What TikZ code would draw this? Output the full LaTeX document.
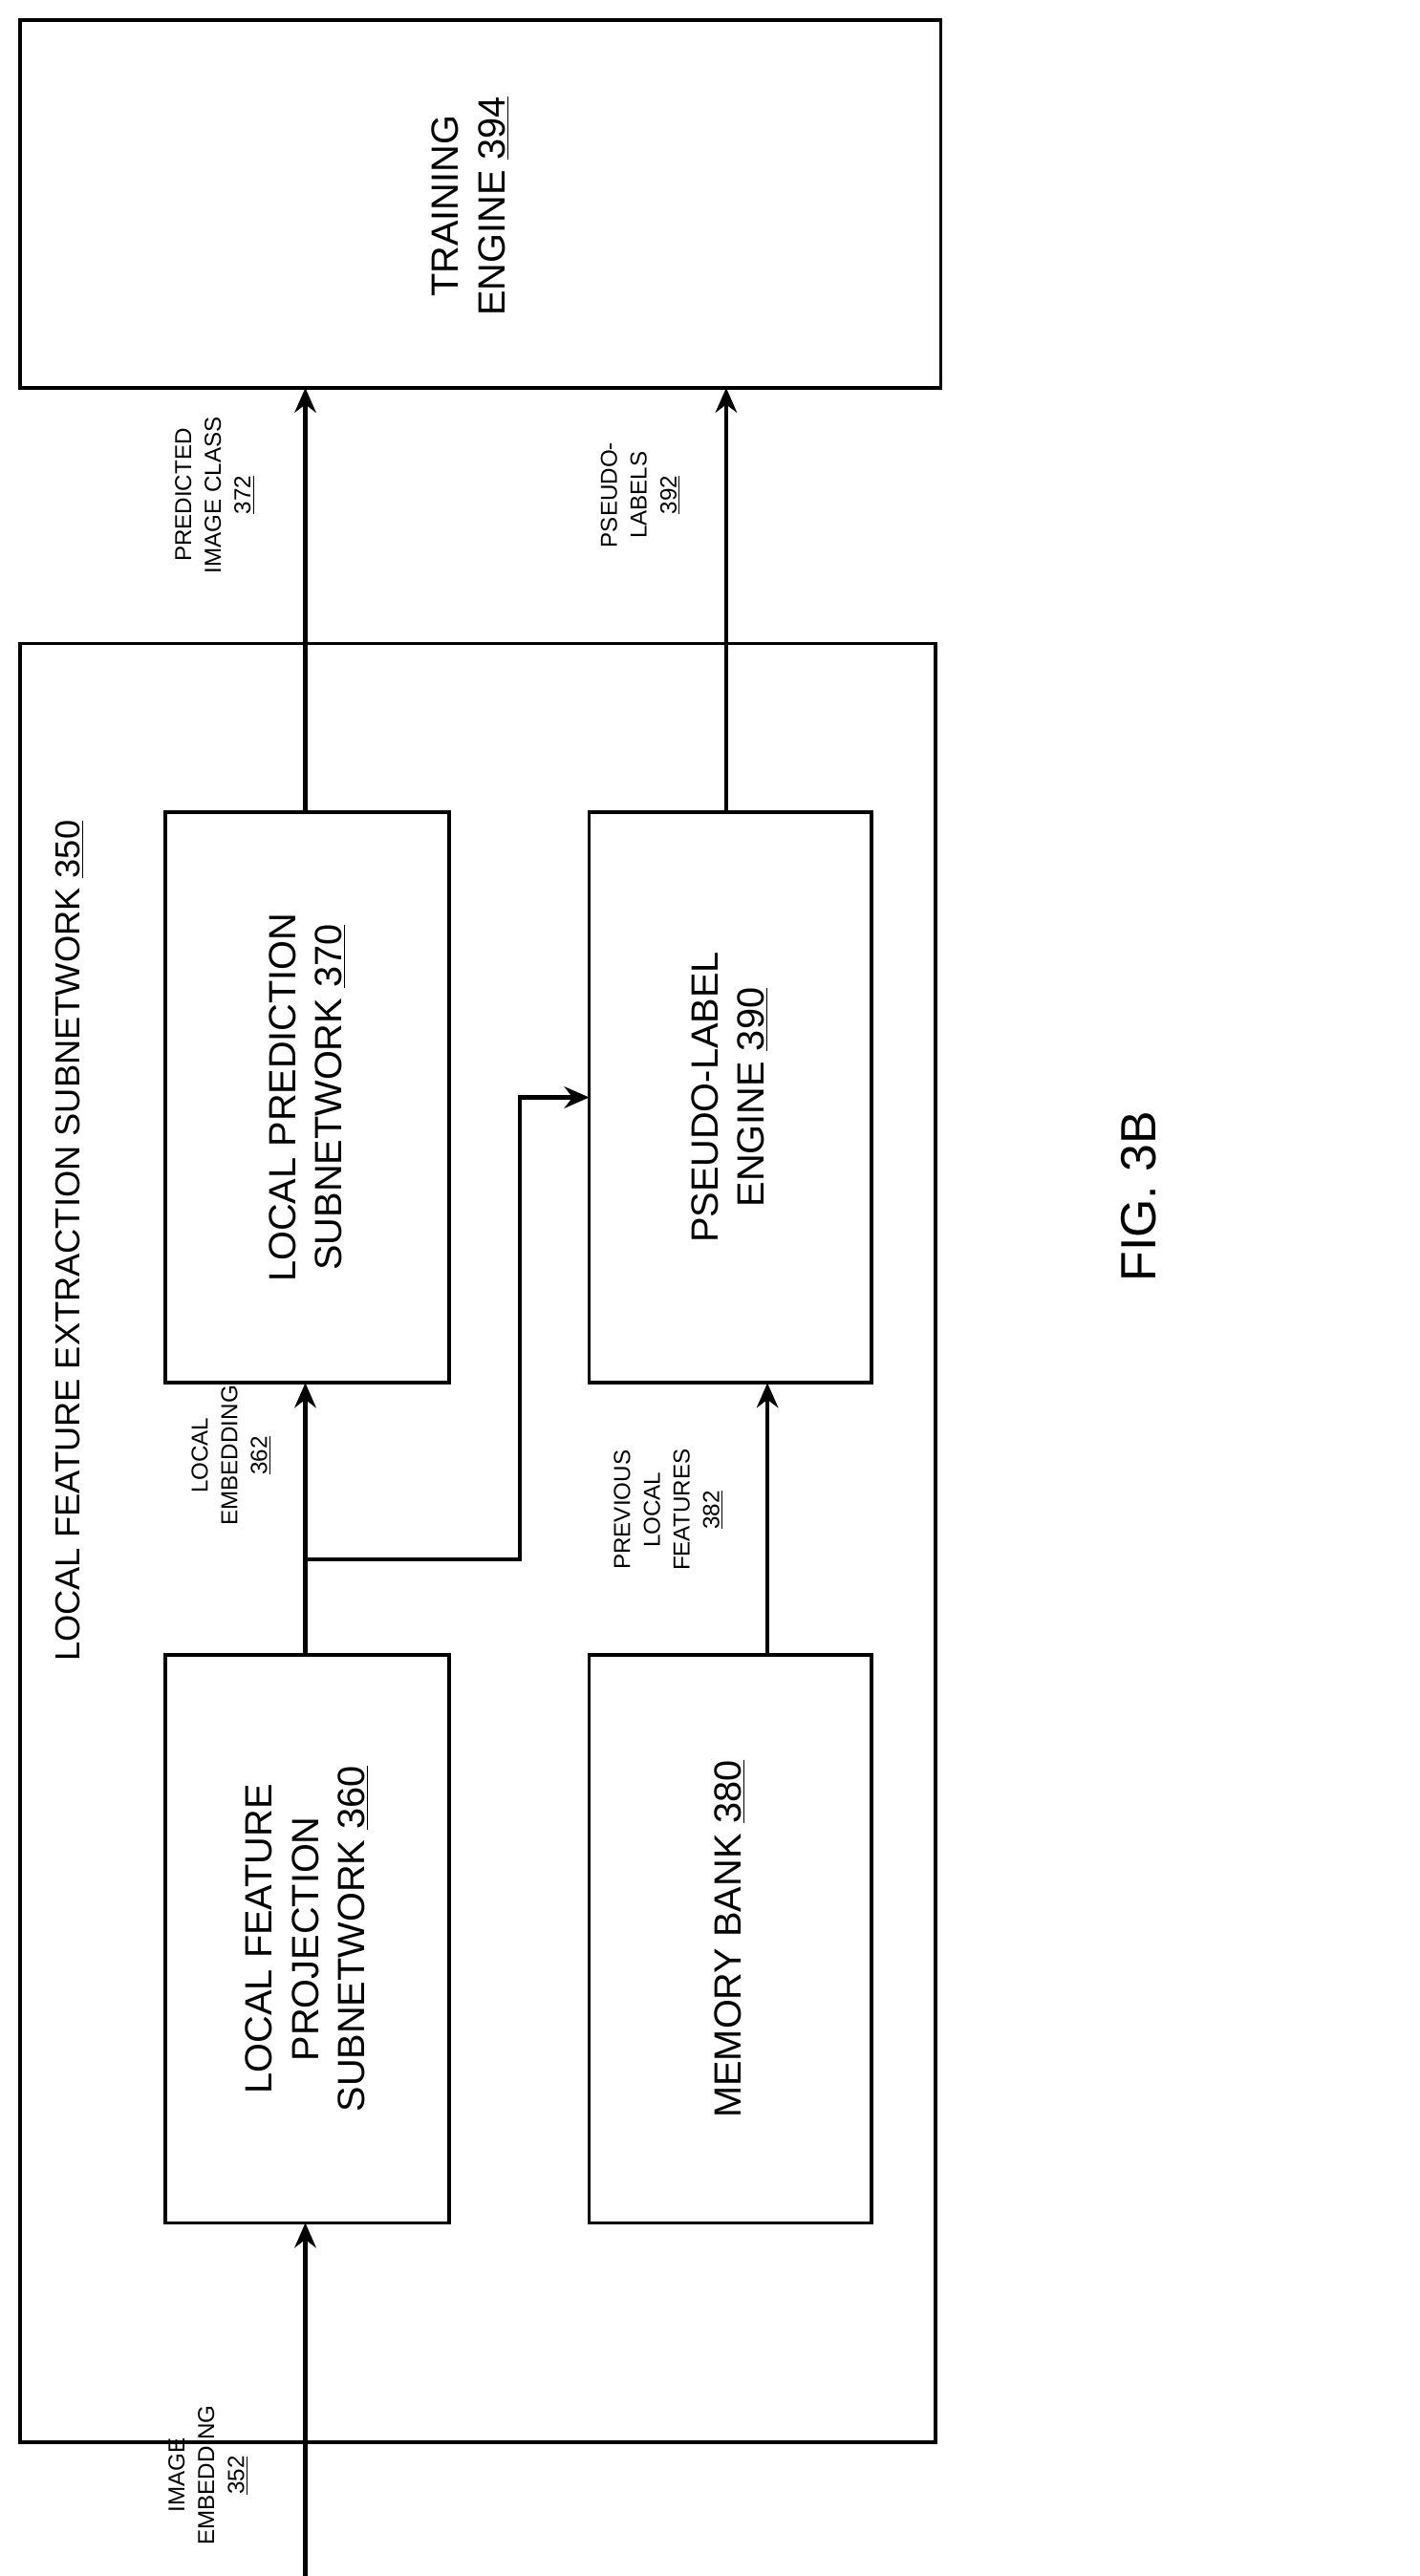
\documentclass[tikz,border=0pt]{standalone}
\usepackage{fontspec}
\setmainfont{Liberation Sans}
\usetikzlibrary{arrows.meta}
\begin{document}
\begin{tikzpicture}[x=1pt,y=-1pt,
  box/.style={draw,line width=2.2pt},
  btxt/.style={rotate=90,align=center,font=\fontsize{23}{28}\selectfont},
  lbl/.style={rotate=90,align=center,font=\fontsize{14}{18}\selectfont},
  arr/.style={line width=2.6pt,-{Stealth[length=15pt,width=13pt]}}]
\useasboundingbox (0,0) rectangle (860,1561);
\draw[box] (12,12) rectangle (570,235);
\node[btxt] (te) at (285,125) {TRAINING\\ENGINE \underline{394}};
\draw[box] (12,390) rectangle (567,1480);
\node[btxt,font=\fontsize{21}{25}\selectfont] (title) at (42,752) {LOCAL FEATURE EXTRACTION SUBNETWORK \underline{350}};
\draw[box] (100,492) rectangle (272,838);
\node[btxt] (lp) at (186,665) {LOCAL PREDICTION\\SUBNETWORK \underline{370}};
\draw[box] (357,492) rectangle (528,838);
\node[btxt] (pl) at (442,665) {PSEUDO-LABEL\\ENGINE \underline{390}};
\draw[box] (100,1003) rectangle (272,1347);
\node[btxt] (lf) at (186,1175) {LOCAL FEATURE\\PROJECTION\\SUBNETWORK \underline{360}};
\draw[box] (357,1003) rectangle (528,1347);
\node[btxt] (mb) at (442,1175) {MEMORY BANK \underline{380}};
\coordinate (ie) at (185,1561);
\coordinate (br) at (185,945);
\draw[arr] (ie) -- (185,1347);
\draw[arr] (185,1003) -- (185,838);
\draw[arr] (br) -- (315,945) -- (315,665) -- (357,665);
\draw[arr] (465,1003) -- (465,838);
\draw[arr] (185,492) -- (185,235);
\draw[arr] (440,492) -- (440,235);
\node[lbl] (l1) at (126,1500) {IMAGE\\EMBEDDING\\\underline{352}};
\node[lbl] (l2) at (140,882) {LOCAL\\EMBEDDING\\\underline{362}};
\node[lbl] (l3) at (405,915) {PREVIOUS\\LOCAL\\FEATURES\\\underline{382}};
\node[lbl] (l4) at (130,300) {PREDICTED\\IMAGE CLASS\\\underline{372}};
\node[lbl] (l5) at (388,300) {PSEUDO-\\LABELS\\\underline{392}};
\node[rotate=90,font=\fontsize{30}{36}\selectfont] (fig) at (690,725) {FIG. 3B};
\end{tikzpicture}
\end{document}
